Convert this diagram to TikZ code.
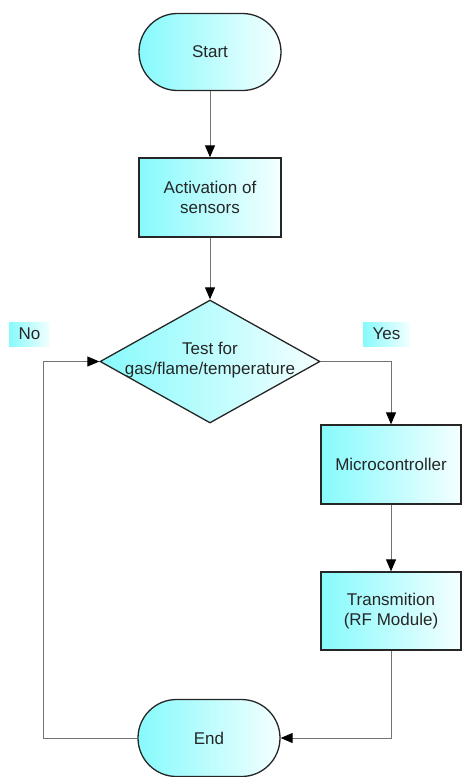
\documentclass[tikz,border=0pt]{standalone}
\usepackage{fontspec}
\setmainfont{Liberation Sans}
\usetikzlibrary{shapes.geometric,arrows.meta}
\definecolor{cyanL}{RGB}{135,250,252}
\definecolor{whiteR}{RGB}{244,255,255}
\definecolor{linegray}{RGB}{115,115,115}
\begin{document}
\begin{tikzpicture}[x=1pt,y=-1pt,
  every node/.style={font=\fontsize{17}{19.5}\selectfont, text=black!85, align=center},
  gradfill/.style={left color=cyanL, right color=whiteR},
  procbox/.style={gradfill, draw=black!85, line width=1.3pt, minimum width=142pt, minimum height=79pt, inner sep=0pt},
  termbox/.style={procbox, rounded corners=38.5pt, minimum height=77pt},
  decbox/.style={shape=diamond, gradfill, draw=black!85, line width=1.3pt, minimum width=220pt, minimum height=123pt, inner sep=0pt},
  tagbox/.style={gradfill, minimum height=24pt, inner sep=0pt},
  flowline/.style={draw=linegray, line width=1pt},
  tip/.style={-{Triangle[length=12pt,width=10pt,color=black,fill=black]}}
]
\useasboundingbox (0,0) rectangle (462,777);
\node[termbox] (start) at (210,52) {Start};
\node[procbox] (act) at (210,197.5) {Activation of\\sensors};
\node[decbox] (test) at (210,361.5) {};
\node (testtext) at (210,360) {Test for\\gas/flame/temperature};
\node[procbox, minimum width=140pt] (micro) at (391,464.5) {Microcontroller};
\node[procbox, minimum width=140pt, minimum height=78pt] (trans) at (391,611) {Transmition\\(RF Module)};
\node[termbox] (end) at (209,738) {End};
\node[tagbox, minimum width=41pt] (no) at (29.5,334) {No};
\node[tagbox, minimum width=47pt] (yes) at (386.5,334) {Yes};
\coordinate (loopx) at (43,0);
\draw[flowline,tip] (start.south) -- (act.north);
\draw[flowline,tip] (act.south) -- (test.north);
\draw[flowline,tip] (test.east) -| (micro.north);
\draw[flowline,tip] (micro.south) -- (trans.north);
\draw[flowline,tip] (trans.south) |- (end.east);
\draw[flowline,tip] (end.west) -- (end.west -| loopx) |- (test.west);
\end{tikzpicture}
\end{document}
